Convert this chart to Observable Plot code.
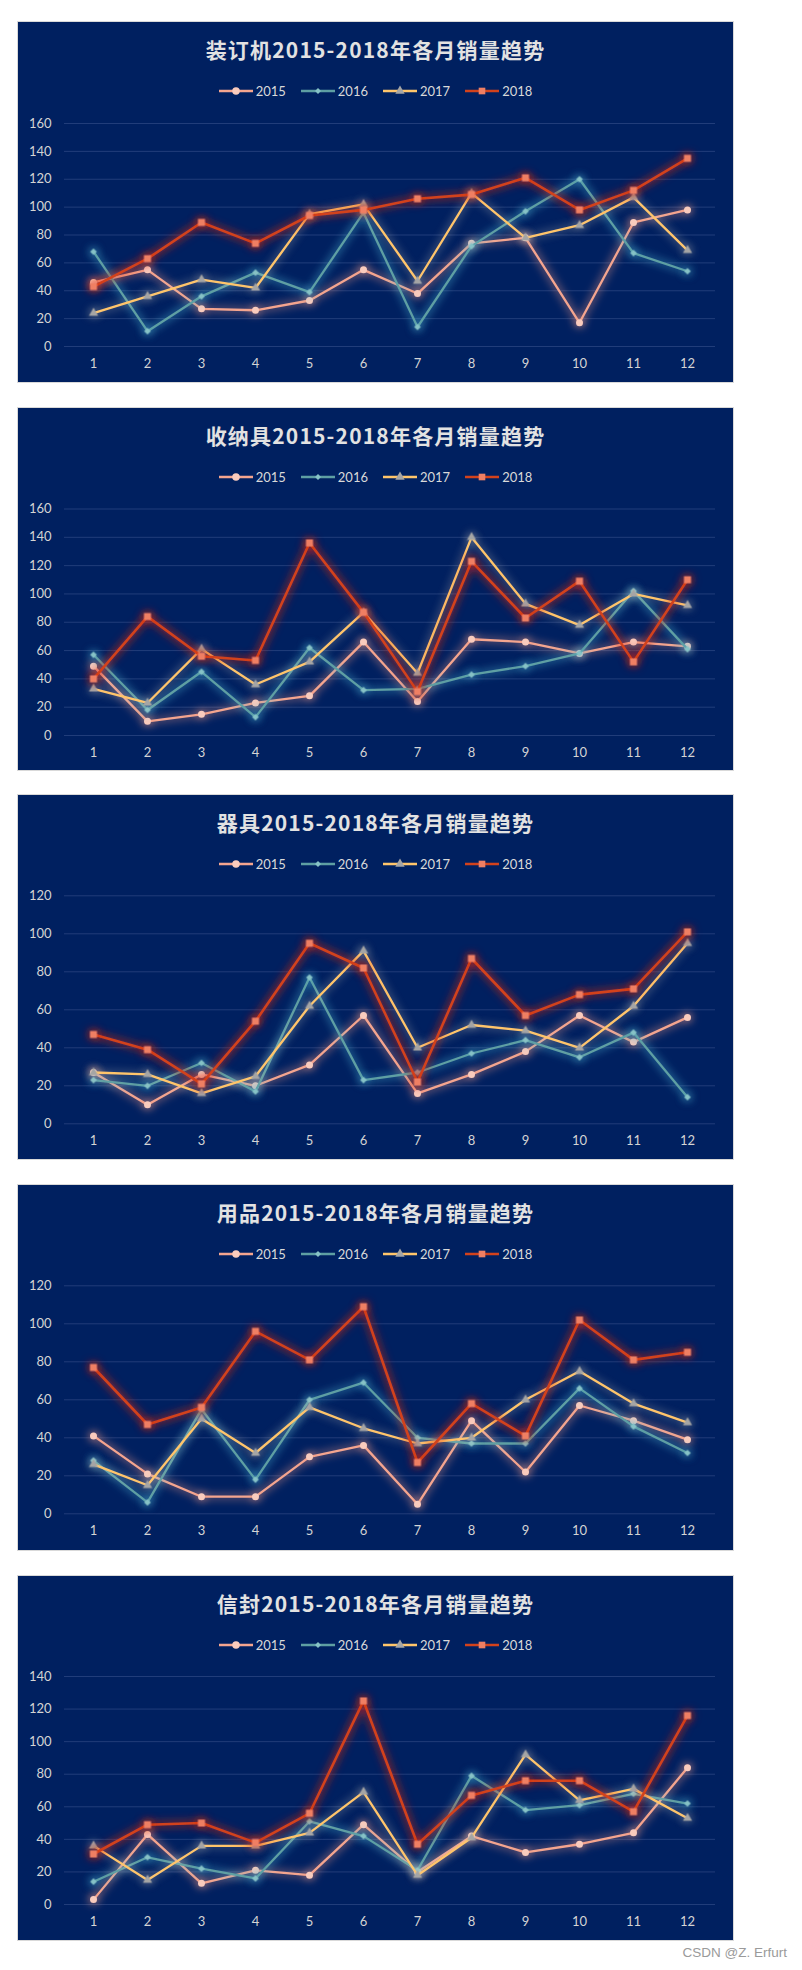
<!DOCTYPE html>
<html><head><meta charset="utf-8">
<script src="https://cdn.jsdelivr.net/npm/d3@7"></script>
<script src="https://cdn.jsdelivr.net/npm/@observablehq/plot@0.6"></script>
<style>
body{margin:0;background:#fff;width:802px;height:1970px;position:relative;font-family:Lato,"Noto Sans",sans-serif;overflow:hidden;}
.panel{position:absolute;left:17px;width:717px;box-sizing:border-box;background:#002060;border:1px solid #d9d9d9;}
.title{position:absolute;left:0;right:0;text-align:center;font-family:"Noto Sans CJK SC","Noto Sans",sans-serif;font-weight:700;font-size:21px;line-height:22px;color:#e2e2e2;letter-spacing:1.2px;white-space:nowrap;}
.legend{position:absolute;left:0;right:0;height:16px;display:flex;justify-content:center;align-items:center;font-size:13px;color:#d9d9d9;}
.legend .item{display:flex;align-items:center;margin:0 7.5px;}
.legend svg{margin-right:3px;display:block}
.plotwrap{position:absolute;left:0;top:85px;}
.credit{position:absolute;right:15px;top:1945px;font-family:"Liberation Sans",Arial,sans-serif;font-size:13.5px;color:#9a9a9a;}
</style>
</head><body>
<div id="root"></div>
<div class="credit">CSDN @Z. Erfurt</div>
<script>
// ---------- data ----------
const months = [1,2,3,4,5,6,7,8,9,10,11,12];
const years = ["2015","2016","2017","2018"];
const categories = ["装订机","收纳具","器具","用品","信封"];
const titleSuffix = "2015-2018年各月销量趋势";

const binder2015 = [46,55,27,26,33,55,38,74,78,17,89,98];
const binder2016 = [68,11,36,53,39,96,14,72,97,120,67,54];
const binder2017 = [24,36,48,42,95,102,47,110,78,87,107,69];
const binder2018 = [43,63,89,74,94,98,106,109,121,98,112,135];

const storage2015 = [49,10,15,23,28,66,24,68,66,58,66,63];
const storage2016 = [57,18,45,13,62,32,33,43,49,58,102,61];
const storage2017 = [33,23,61,36,52,87,44,140,93,78,100,92];
const storage2018 = [40,84,56,53,136,87,31,123,83,109,52,110];

const appliance2015 = [27,10,26,20,31,57,16,26,38,57,43,56];
const appliance2016 = [23,20,32,17,77,23,27,37,44,35,48,14];
const appliance2017 = [27,26,16,25,62,91,40,52,49,40,62,95];
const appliance2018 = [47,39,21,54,95,82,22,87,57,68,71,101];

const supplies2015 = [41,21,9,9,30,36,5,49,22,57,49,39];
const supplies2016 = [28,6,55,18,60,69,40,37,37,66,46,32];
const supplies2017 = [26,15,50,32,56,45,37,40,60,75,58,48];
const supplies2018 = [77,47,56,96,81,109,27,58,41,102,81,85];

const envelope2015 = [3,43,13,21,18,49,20,42,32,37,44,84];
const envelope2016 = [14,29,22,16,51,42,21,79,58,61,68,62];
const envelope2017 = [36,15,36,36,44,69,18,41,92,64,71,53];
const envelope2018 = [31,49,50,38,56,125,37,67,76,76,57,116];

const ticks160 = [0,20,40,60,80,100,120,140,160];
const ticks120 = [0,20,40,60,80,100,120];
const ticks140 = [0,20,40,60,80,100,120,140];

// ---------- styles ----------
const lineColors = ["#f4a58f","#5e9fa3","#ffc56b","#d2421c"];
const markColors = ["#f9cbbd","#86c2c6","#a5a5a5","#ef7f63"];
const glowColors = ["#f59a86","#4fb8d6","#d8d0c0","#e02814"];
const glowOpacity = [0.55,0.55,0.35,0.72];
const symbols = ["circle","diamond2","triangle","square"];
const symbolR = [3.5,3,3.4,3.9];
const lineWidths = [2.3,2.3,2.3,2.6];

const panelSeries = [
  [binder2015,binder2016,binder2017,binder2018],
  [storage2015,storage2016,storage2017,storage2018],
  [appliance2015,appliance2016,appliance2017,appliance2018],
  [supplies2015,supplies2016,supplies2017,supplies2018],
  [envelope2015,envelope2016,envelope2017,envelope2018]
];
const panelTicks = [ticks160,ticks160,ticks120,ticks120,ticks140];
// panel layout: top, outer height, top gridline offset, zero line offset
const layout = [
  {top:21,h:362,gTop:102,zero:325},
  {top:407,h:364,gTop:101.5,zero:328},
  {top:794,h:366,gTop:101.3,zero:329.3},
  {top:1184,h:367,gTop:101.3,zero:329.3},
  {top:1575,h:366,gTop:101,zero:329}
];

const ns = "http://www.w3.org/2000/svg";
const root = document.getElementById("root");

function legendItem(i){
  const item = document.createElement("div");
  item.className = "item";
  const s = d3.create("svg").attr("width",34).attr("height",12);
  s.append("line").attr("x1",0).attr("x2",34).attr("y1",6).attr("y2",6)
    .attr("stroke",lineColors[i]).attr("stroke-width",2.6);
  const sym = {circle:d3.symbolCircle,diamond2:d3.symbolDiamond2,triangle:d3.symbolTriangle,square:d3.symbolSquare}[symbols[i]];
  const sz = [44,22,38,44][i];
  s.append("path").attr("transform","translate(17,6)").attr("d",d3.symbol(sym,sz)()).attr("fill",markColors[i]);
  item.appendChild(s.node());
  const t = document.createElement("span");
  t.textContent = years[i];
  item.appendChild(t);
  return item;
}

function addGlow(svg, pid, W, H){
  const defs = document.createElementNS(ns,"defs");
  svg.insertBefore(defs, svg.firstChild);
  glowColors.forEach((c,i)=>{
    const f = d3.select(defs).append("filter").attr("id",`glow-${pid}-${i}`)
      .attr("filterUnits","userSpaceOnUse").attr("x",0).attr("y",0).attr("width",W).attr("height",H);
    f.append("feMorphology").attr("in","SourceAlpha").attr("operator","dilate").attr("radius",1.3).attr("result","d");
    f.append("feGaussianBlur").attr("in","d").attr("stdDeviation",4).attr("result","b");
    f.append("feFlood").attr("flood-color",c).attr("flood-opacity",glowOpacity[i]).attr("result","c");
    f.append("feComposite").attr("in","c").attr("in2","b").attr("operator","in").attr("result","g");
    const m = f.append("feMerge");
    m.append("feMergeNode").attr("in","g");
    m.append("feMergeNode").attr("in","SourceGraphic");
  });
  const lines = svg.querySelectorAll('g[aria-label="line"]');
  const dots = svg.querySelectorAll('g[aria-label="dot"]');
  lines.forEach((g,i)=>g.setAttribute("filter",`url(#glow-${pid}-${i})`));
  dots.forEach((g,i)=>g.setAttribute("filter",`url(#glow-${pid}-${i})`));
}

categories.forEach((cat,p)=>{
  const L = layout[p];
  const panel = document.createElement("div");
  panel.className = "panel";
  panel.style.top = L.top + "px";
  panel.style.height = L.h + "px";
  root.appendChild(panel);

  const title = document.createElement("div");
  title.className = "title";
  title.style.top = (28 - 1 - 11) + "px";
  title.textContent = cat + titleSuffix;
  panel.appendChild(title);

  const legend = document.createElement("div");
  legend.className = "legend";
  legend.style.top = (70 - 1 - 8) + "px";
  years.forEach((y,i)=>legend.appendChild(legendItem(i)));
  panel.appendChild(legend);

  const W = 715;
  const H = L.h - 2 - 85;
  const mt = L.gTop - 1 - 85;
  const zeroY = L.zero - 1 - 85;
  const mb = H - zeroY;
  const ticks = panelTicks[p];

  const marks = [Plot.ruleY(ticks,{stroke:"#213d7a",strokeWidth:1})];
  panelSeries[p].forEach((vals,i)=>{
    const rows = months.map((m,k)=>({month:m, value:vals[k]}));
    marks.push(Plot.line(rows,{x:"month",y:"value",stroke:lineColors[i],strokeWidth:lineWidths[i],strokeLinejoin:"round"}));
    marks.push(Plot.dot(rows,{x:"month",y:"value",symbol:symbols[i],r:symbolR[i],fill:markColors[i],stroke:"none"}));
  });

  const svg = Plot.plot({
    width: W, height: H,
    marginTop: mt, marginBottom: mb, marginLeft: 46, marginRight: 18,
    x: {type:"point", domain: months, padding: 0.5, tickSize:0, tickPadding:12, label:null},
    y: {domain:[0, ticks[ticks.length-1]], ticks: ticks, tickSize:0, tickPadding:13, label:null},
    style: {background:"transparent", color:"#d4d4d4", fontSize:"13px", fontFamily:"Lato, 'Noto Sans', sans-serif", overflow:"visible"},
    marks
  });
  addGlow(svg, p, W, H);
  const wrap = document.createElement("div");
  wrap.className = "plotwrap";
  wrap.appendChild(svg);
  panel.appendChild(wrap);
});
</script>
</body></html>
